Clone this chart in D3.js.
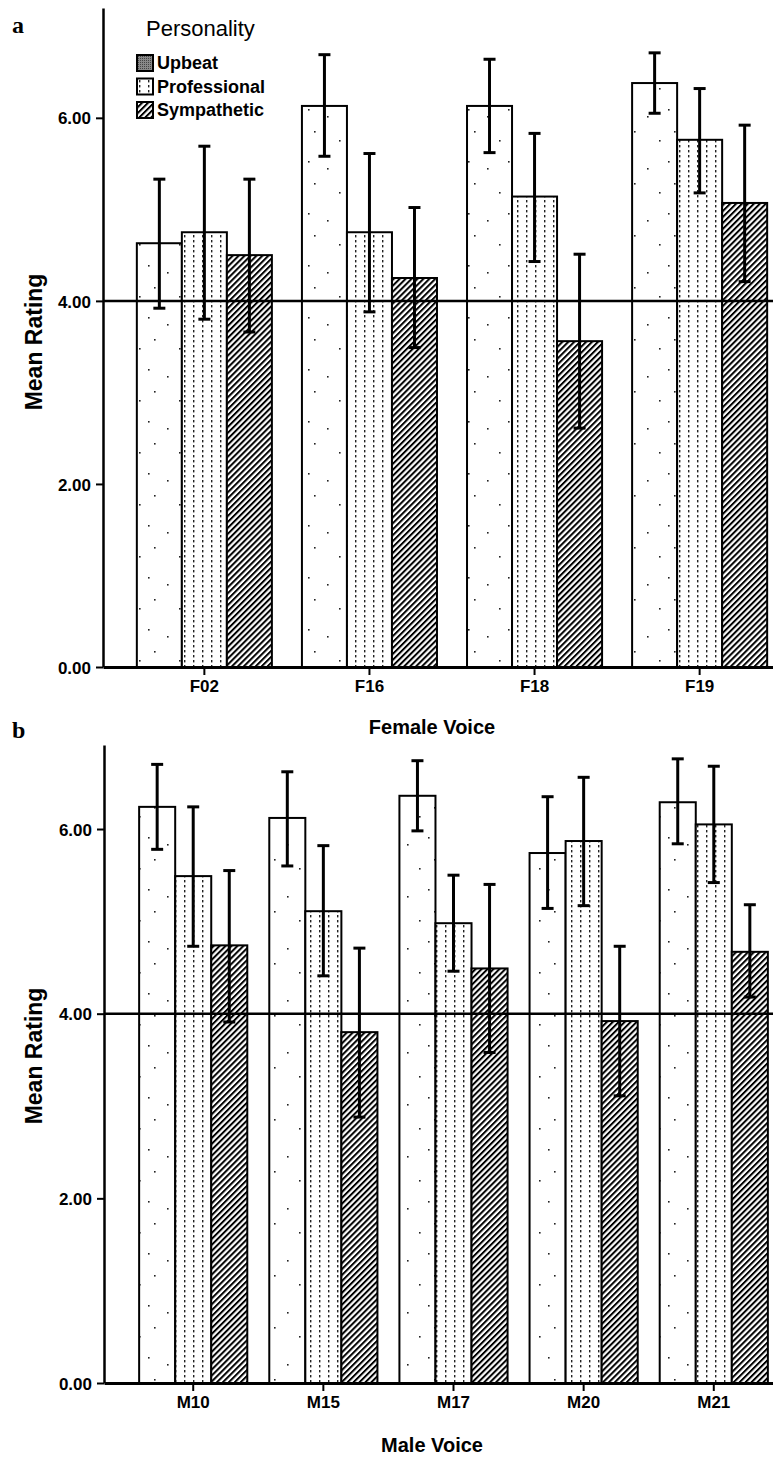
<!DOCTYPE html>
<html><head><meta charset="utf-8">
<script src="https://cdn.jsdelivr.net/npm/d3@7"></script>
<style>body{margin:0;background:#fff} svg{display:block}</style>
</head><body><svg id="c" width="773" height="1461"></svg>
<script>
// ---------- data ----------
const personalities = ["Upbeat", "Professional", "Sympathetic"];
const yTicks = [0, 2, 4, 6];
const referenceValue = 4;

const femaleVoices = ["F02", "F16", "F18", "F19"];
const femaleUpbeat = [4.63, 6.13, 6.13, 6.38];
const femaleProfessional = [4.75, 4.75, 5.14, 5.76];
const femaleSympathetic = [4.50, 4.25, 3.56, 5.07];
const femaleUpbeatCI = [[3.92, 5.33], [5.58, 6.69], [5.62, 6.64], [6.05, 6.71]];
const femaleProfessionalCI = [[3.80, 5.69], [3.88, 5.61], [4.43, 5.83], [5.18, 6.32]];
const femaleSympatheticCI = [[3.66, 5.33], [3.49, 5.02], [2.61, 4.51], [4.21, 5.92]];

const maleVoices = ["M10", "M15", "M17", "M20", "M21"];
const maleUpbeat = [6.24, 6.12, 6.36, 5.74, 6.29];
const maleProfessional = [5.49, 5.11, 4.98, 5.87, 6.05];
const maleSympathetic = [4.74, 3.80, 4.49, 3.92, 4.67];
const maleUpbeatCI = [[5.78, 6.70], [5.60, 6.62], [5.98, 6.74], [5.14, 6.35], [5.84, 6.76]];
const maleProfessionalCI = [[4.73, 6.24], [4.41, 5.82], [4.46, 5.50], [5.17, 6.56], [5.42, 6.68]];
const maleSympatheticCI = [[3.91, 5.55], [2.88, 4.71], [3.58, 5.40], [3.11, 4.73], [4.18, 5.18]];

// ---------- drawing ----------
const svg = d3.select("#c");
const FONT = "'Liberation Sans', Arial, sans-serif";
const defs = svg.append("defs");

// Upbeat: sparse stipple
const pU = defs.append("pattern").attr("id", "pat-Upbeat").attr("patternUnits", "userSpaceOnUse")
  .attr("width", 40).attr("height", 52);
pU.append("rect").attr("width", 40).attr("height", 52).attr("fill", "#fff");
[[7, 12], [28, 5], [19, 36], [34, 27]].forEach(([cx, cy]) =>
  pU.append("rect").attr("x", cx).attr("y", cy).attr("width", 1.6).attr("height", 1.6).attr("fill", "#222"));

// Professional: vertical dotted lines
const pP = defs.append("pattern").attr("id", "pat-Professional").attr("patternUnits", "userSpaceOnUse")
  .attr("width", 9).attr("height", 5);
pP.append("rect").attr("width", 9).attr("height", 5).attr("fill", "#fff");
pP.append("rect").attr("x", 4).attr("y", 0).attr("width", 1.4).attr("height", 2.4).attr("fill", "#222");

// Sympathetic: diagonal hatching
const pS = defs.append("pattern").attr("id", "pat-Sympathetic").attr("patternUnits", "userSpaceOnUse")
  .attr("width", 4.2).attr("height", 10).attr("patternTransform", "rotate(45)");
pS.append("rect").attr("width", 4.2).attr("height", 10).attr("fill", "#fff");
pS.append("line").attr("x1", 1).attr("x2", 1).attr("y1", 0).attr("y2", 10)
  .attr("stroke", "#000").attr("stroke-width", 2.0);

// Legend swatch for Upbeat (grey stipple)
const pL = defs.append("pattern").attr("id", "pat-legendUpbeat").attr("patternUnits", "userSpaceOnUse")
  .attr("width", 2).attr("height", 2);
pL.append("rect").attr("width", 2).attr("height", 2).attr("fill", "#888");
pL.append("rect").attr("width", 1).attr("height", 1).attr("fill", "#444");

function drawPanel(opt) {
  const g = svg.append("g");
  const x0 = d3.scaleBand().domain(opt.voices).range(opt.xRange)
    .paddingInner(opt.padInner).paddingOuter(opt.padOuter);
  const x1 = d3.scaleBand().domain(personalities).range([0, x0.bandwidth()]);
  const y = d3.scaleLinear().domain([0, opt.yMax]).range(opt.yRange);

  const seriesMeans = [opt.up, opt.pro, opt.sym];
  const seriesCI = [opt.upCI, opt.proCI, opt.symCI];

  personalities.forEach((p, si) => {
    const rows = opt.voices.map((v, i) => ({ v, m: seriesMeans[si][i] }));
    g.selectAll(null).data(rows).enter().append("rect")
      .attr("x", d => x0(d.v) + x1(p))
      .attr("y", d => y(d.m))
      .attr("width", x1.bandwidth())
      .attr("height", d => y(0) - y(d.m))
      .attr("fill", `url(#pat-${p})`)
      .attr("stroke", "#000").attr("stroke-width", 2);
  });

  // reference line at 4
  g.append("line").attr("x1", opt.xRange[0]).attr("x2", 773)
    .attr("y1", y(referenceValue)).attr("y2", y(referenceValue))
    .attr("stroke", "#000").attr("stroke-width", 2.5);

  personalities.forEach((p, si) => {
    const rows = opt.voices.map((v, i) => ({ v, ci: seriesCI[si][i] }));
    const cx = d => x0(d.v) + x1(p) + x1.bandwidth() / 2;
    const eg = g.selectAll(null).data(rows).enter().append("g");
    eg.append("line").attr("x1", cx).attr("x2", cx)
      .attr("y1", d => y(d.ci[0])).attr("y2", d => y(d.ci[1]))
      .attr("stroke", "#000").attr("stroke-width", 3);
    eg.append("line").attr("x1", d => cx(d) - 6).attr("x2", d => cx(d) + 6)
      .attr("y1", d => y(d.ci[1])).attr("y2", d => y(d.ci[1]))
      .attr("stroke", "#000").attr("stroke-width", 3);
    eg.append("line").attr("x1", d => cx(d) - 6).attr("x2", d => cx(d) + 6)
      .attr("y1", d => y(d.ci[0])).attr("y2", d => y(d.ci[0]))
      .attr("stroke", "#000").attr("stroke-width", 3);
  });

  // y axis
  const ya = g.append("g").attr("transform", `translate(${opt.xRange[0]},0)`)
    .call(d3.axisLeft(y).tickValues(yTicks).tickFormat(d3.format(".2f")).tickSize(7).tickSizeOuter(0));
  ya.select(".domain").attr("stroke-width", 2.5);
  ya.selectAll(".tick line").attr("stroke-width", 2);
  ya.selectAll(".tick text").attr("font-family", FONT).attr("font-size", 17).attr("font-weight", "bold")
    .attr("fill", "#000").attr("x", -12).attr("dy", "0.36em");

  // x axis
  const xa = g.append("g").attr("transform", `translate(0,${y(0)})`)
    .call(d3.axisBottom(x0).tickSize(8).tickSizeOuter(0));
  xa.select(".domain").attr("stroke-width", 3);
  xa.selectAll(".tick line").attr("stroke-width", 2);
  xa.selectAll(".tick text").attr("font-family", FONT).attr("font-size", 17).attr("font-weight", "bold")
    .attr("fill", "#000").attr("y", 13);

  // axis titles
  g.append("text").attr("transform", `translate(42,${opt.yTitleY}) rotate(-90)`)
    .attr("text-anchor", "middle").attr("font-family", FONT).attr("font-weight", "bold")
    .attr("font-size", 23).text("Mean Rating");
  g.append("text").attr("x", 432).attr("y", opt.xTitleY).attr("text-anchor", "middle")
    .attr("font-family", FONT).attr("font-weight", "bold").attr("font-size", 20).text(opt.xTitle);

  // panel letter
  g.append("text").attr("x", 12).attr("y", opt.letterY)
    .attr("font-family", "'Liberation Serif', 'Times New Roman', serif").attr("font-weight", "bold")
    .attr("font-size", 24).text(opt.letter);
}

drawPanel({
  voices: femaleVoices, up: femaleUpbeat, pro: femaleProfessional, sym: femaleSympathetic,
  upCI: femaleUpbeatCI, proCI: femaleProfessionalCI, symCI: femaleSympatheticCI,
  xRange: [103, 801], padInner: 0.182, padOuter: 0.205, yMax: 7.2, yRange: [667, 8],
  yTitleY: 342, xTitle: "Female Voice", xTitleY: 734, letter: "a", letterY: 33
});
drawPanel({
  voices: maleVoices, up: maleUpbeat, pro: maleProfessional, sym: maleSympathetic,
  upCI: maleUpbeatCI, proCI: maleProfessionalCI, symCI: maleSympatheticCI,
  xRange: [104, 803], padInner: 0.169, padOuter: 0.27, yMax: 6.91, yRange: [1383, 745],
  yTitleY: 1056, xTitle: "Male Voice", xTitleY: 1452, letter: "b", letterY: 738
});

// legend (panel a)
const lg = svg.append("g");
lg.append("text").attr("x", 146).attr("y", 36).attr("font-family", FONT).attr("font-size", 22)
  .text("Personality");
const legendFill = { Upbeat: "url(#pat-legendUpbeat)", Professional: "url(#pat-Professional)", Sympathetic: "url(#pat-Sympathetic)" };
personalities.forEach((p, i) => {
  const yy = 55 + i * 23.5;
  lg.append("rect").attr("x", 137).attr("y", yy).attr("width", 16).attr("height", 16)
    .attr("fill", legendFill[p]).attr("stroke", "#000").attr("stroke-width", 2);
  lg.append("text").attr("x", 157).attr("y", yy + 14).attr("font-family", FONT).attr("font-weight", "bold")
    .attr("font-size", 18).text(p);
});
</script>
</body></html>
